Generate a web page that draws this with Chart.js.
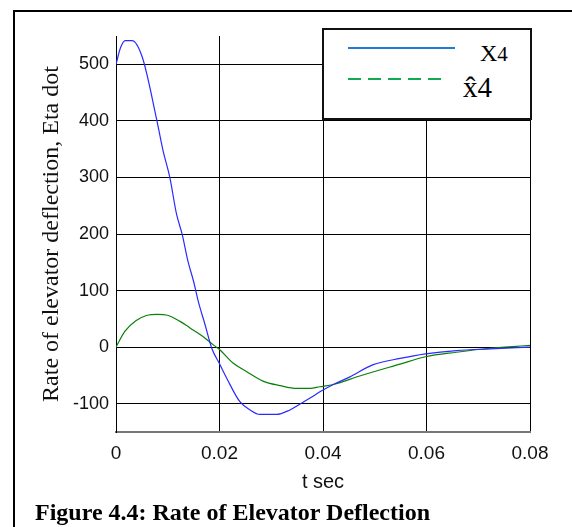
<!DOCTYPE html>
<html lang="en">
<head>
  <meta charset="UTF-8" />
  <title>Figure 4.4</title>
  <script src="https://cdn.jsdelivr.net/npm/chart.js"></script>
  <style>
    body { margin: 0; background: #fff; }
    #frame { position: absolute; left: 13px; top: 10px; width: 600px; height: 600px;
             border-top: 2px solid #000; border-left: 2px solid #000; }
    #wrap { position: absolute; left: 0; top: 0; width: 572px; height: 527px; }
    #legendBox { position: absolute; left: 322px; top: 28px; width: 210px; height: 92px;
                 box-sizing: border-box; border: 2px solid #111; background: #fff; }
    #legendBox svg { position: absolute; left: 0; top: 0; }
    #caption { position: absolute; left: 35px; top: 499px; line-height: 24px;
               font: bold 24px "Liberation Serif", "Times New Roman", serif; color: #000; white-space: nowrap; }
  </style>
</head>
<body>
  <div id="frame"></div>

  <!-- chart -->
  <div id="wrap"><canvas id="etaChart"></canvas></div>

  <!-- legend box -->
  <div id="legendBox">
    <svg width="206" height="88" font-family="Liberation Serif, Times New Roman, serif" fill="#000">
      <line x1="24" y1="18" x2="131" y2="18" stroke="#1f7ad8" stroke-width="2" />
      <text x="156" y="31" font-size="24">X<tspan font-size="21">4</tspan></text>
      <line x1="24" y1="49" x2="121" y2="49" stroke="#12aa50" stroke-width="2" stroke-dasharray="13 7" />
      <text x="139" y="67" font-size="29">x&#770;4</text>
    </svg>
  </div>

  <div id="caption">Figure 4.4: Rate of Elevator Deflection</div>

  <script>
    // values
    const xTicks = [0, 0.02, 0.04, 0.06, 0.08];
    const yTicks = [-100, 0, 100, 200, 300, 400, 500];

    // x4 (blue)
    const blueT = [0, 0.0009, 0.0018, 0.0031, 0.0051, 0.0078, 0.0091, 0.0104, 0.0117, 0.0128,
                   0.0139, 0.015, 0.0159, 0.0172, 0.0185, 0.0201, 0.0214, 0.0239, 0.0259, 0.0278,
                   0.031, 0.0336, 0.0355, 0.0375, 0.0394, 0.042, 0.0451, 0.0497, 0.0549, 0.0598,
                   0.0658, 0.0723, 0.08];
    const blueV = [500, 530, 542, 542, 512, 405, 347, 300, 235, 199,
                   152, 116, 81, 40, -2, -31, -55, -96, -111, -119,
                   -119, -111, -101, -90, -79, -66, -53, -31, -20, -12,
                   -6, -3, 0];

    // x4 estimate (green)
    const greenT = [0, 0.0017, 0.0039, 0.0059, 0.008, 0.0101, 0.0123, 0.0143, 0.0168, 0.0188,
                    0.0201, 0.0226, 0.0252, 0.0284, 0.0317, 0.0349, 0.0375, 0.0394, 0.042, 0.0471,
                    0.0549, 0.0598, 0.0658, 0.0723, 0.08];
    const greenV = [0, 28, 47, 56, 58, 56, 46, 34, 19, 4,
                    -5, -28, -43, -60, -68, -73, -73, -70, -66, -51,
                    -30, -17, -9, -2, 3];

    const toPoints = (ts, vs) => ts.map((t, i) => ({ x: t, y: vs[i] }));

    const ctx = document.getElementById('etaChart').getContext('2d');
    const etaChart = new Chart(ctx, {
      type: 'line',
      data: {
        datasets: [{
          label: 'x4',
          data: toPoints(blueT, blueV),
          borderColor: '#2a2aff',
          borderWidth: 1.2,
          pointRadius: 0,
          cubicInterpolationMode: 'monotone'
        }, {
          label: 'x4 hat',
          data: toPoints(greenT, greenV),
          borderColor: '#0a800a',
          borderWidth: 1.2,
          pointRadius: 0,
          cubicInterpolationMode: 'monotone'
        }]
      },
      options: {
        responsive: true,
        maintainAspectRatio: false,
        animation: false,
        layout: { padding: { left: 0, top: 36, right: 42, bottom: 0 } },
        plugins: {
          legend: { display: false },
          tooltip: { enabled: false }
        },
        scales: {
          x: {
            type: 'linear',
            min: 0,
            max: 0.08,
            afterBuildTicks: s => { s.ticks = xTicks.map(v => ({ value: v })); },
            afterFit: s => { s.height = 95; },
            grid: { color: '#000', lineWidth: 1, drawTicks: false },
            border: { color: '#777', width: 2 },
            ticks: {
              padding: 10,
              color: '#111',
              font: { family: 'Liberation Sans, Arial, sans-serif', size: 19 },
              callback: v => String(v)
            },
            title: {
              display: true,
              text: 't sec',
              color: '#111',
              font: { family: 'Liberation Sans, Arial, sans-serif', size: 20 },
              padding: { top: 0, bottom: 33 }
            }
          },
          y: {
            min: -150,
            max: 550,
            afterBuildTicks: s => { s.ticks = yTicks.map(v => ({ value: v })); },
            afterFit: s => { s.width = 116; },
            grid: { color: '#000', lineWidth: 1, drawTicks: false },
            border: { color: '#000', width: 1 },
            ticks: {
              padding: 7,
              color: '#111',
              font: { family: 'Liberation Sans, Arial, sans-serif', size: 18 },
              callback: v => String(v)
            },
            title: {
              display: true,
              text: 'Rate of elevator deflection, Eta dot',
              color: '#111',
              font: { family: 'Liberation Serif, Times New Roman, serif', size: 24 },
              padding: { top: 37, bottom: 0 }
            }
          }
        }
      }
    });
  </script>
</body>
</html>
